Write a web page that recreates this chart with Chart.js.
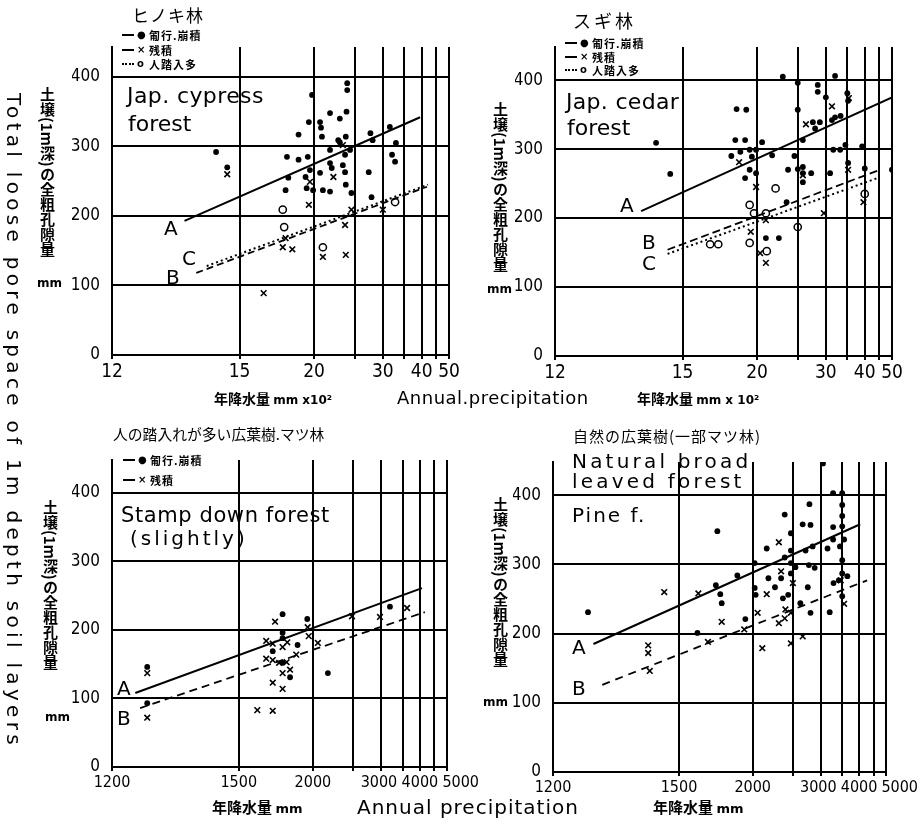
<!DOCTYPE html>
<html>
<head>
<meta charset="utf-8">
<script src="https://cdn.jsdelivr.net/npm/chart.js@4.4.1/dist/chart.umd.min.js"></script>
<style>
  body { margin: 0; background: #fff; }
  #wrap { position: relative; width: 920px; height: 826px; overflow: hidden; background: #fff; }
  canvas { position: absolute; left: 0; top: 0; }
  .t { position: absolute; white-space: nowrap; color: #000; line-height: 1; }
  .hw { font-family: "DejaVu Sans", sans-serif; }
  .jp { font-family: "Noto Sans CJK JP", sans-serif; }
  .vt { writing-mode: vertical-rl; text-orientation: mixed; font-family: "Noto Sans CJK JP", sans-serif;
        font-size: 15px; font-weight: bold; line-height: 1; }
  .mm { font-family: "DejaVu Sans", sans-serif; font-size: 12px; font-weight: bold; }
  .lg { font-family: "Noto Sans CJK JP", sans-serif; font-size: 11px; font-weight: bold; letter-spacing: 1px; }
  .lg span { display: inline-block; vertical-align: middle; }
  .ln { width: 12px; height: 0; margin-right: 3px; border-top: 2px solid #000; }
  .ln.dash { border-top-style: dashed; }
  .ln.dot { border-top-style: dotted; }
  .mk { width: 8px; font-family: "DejaVu Sans", sans-serif; font-size: 10px; margin-right: 4px; }
</style>
</head>
<body>
<div id="wrap">
  <canvas id="c1" width="920" height="826"></canvas>
  <canvas id="c2" width="920" height="826"></canvas>
  <canvas id="c3" width="920" height="826"></canvas>
  <canvas id="c4" width="920" height="826"></canvas>

  <!-- overall y title -->
  <div class="t hw" style="left:4px;top:93px;font-size:20px;letter-spacing:4.3px;writing-mode:vertical-rl;">Total loose pore space of 1m depth soil layers</div>

  <!-- panel titles -->
  <div class="t jp" style="left:132px;top:6px;font-size:17px;letter-spacing:1px;">ヒノキ林</div>
  <div class="t jp" style="left:573px;top:11px;font-size:18px;letter-spacing:3px;">スギ林</div>
  <div class="t jp" style="left:113px;top:427px;font-size:14.8px;">人の踏入れが多い広葉樹.マツ林</div>
  <div class="t jp" style="left:573px;top:428px;font-size:15px;letter-spacing:1px;">自然の広葉樹(一部マツ林)</div>

  <!-- legends -->
  <div class="t lg" style="left:122px;top:28px;"><span class="ln"></span><span class="mk">●</span><span>匍行.崩積</span></div>
  <div class="t lg" style="left:122px;top:43px;"><span class="ln dash"></span><span class="mk">×</span><span>残積</span></div>
  <div class="t lg" style="left:122px;top:57px;"><span class="ln dot"></span><span class="mk">o</span><span>人踏入多</span></div>

  <div class="t lg" style="left:565px;top:36px;"><span class="ln"></span><span class="mk">●</span><span>匍行.崩積</span></div>
  <div class="t lg" style="left:565px;top:50px;"><span class="ln dash"></span><span class="mk">×</span><span>残積</span></div>
  <div class="t lg" style="left:565px;top:63px;"><span class="ln dot"></span><span class="mk">o</span><span>人踏入多</span></div>

  <div class="t lg" style="left:123px;top:453px;"><span class="ln"></span><span class="mk">●</span><span>匍行.崩積</span></div>
  <div class="t lg" style="left:123px;top:473px;"><span class="ln dash"></span><span class="mk">×</span><span>残積</span></div>

  <!-- forest names written inside the plots -->
  <div class="t hw" style="left:127px;top:85px;font-size:22px;letter-spacing:0.4px;">Jap. cypress</div>
  <div class="t hw" style="left:128px;top:113px;font-size:22px;">forest</div>
  <div class="t hw" style="left:566px;top:91px;font-size:22px;letter-spacing:0.3px;">Jap. cedar</div>
  <div class="t hw" style="left:567px;top:117px;font-size:22px;">forest</div>
  <div class="t hw" style="left:121px;top:505px;font-size:21px;letter-spacing:0.6px;">Stamp down forest</div>
  <div class="t hw" style="left:130px;top:528px;font-size:20px;letter-spacing:3px;">(slightly)</div>
  <div class="t hw" style="left:572px;top:451px;font-size:20px;letter-spacing:3.2px;">Natural  broad</div>
  <div class="t hw" style="left:572px;top:471px;font-size:20px;letter-spacing:3.2px;">leaved forest</div>
  <div class="t hw" style="left:572px;top:505px;font-size:20px;letter-spacing:2px;">Pine f.</div>

  <!-- regression line letters -->
  <div class="t hw" style="left:164px;top:218px;font-size:20px;">A</div>
  <div class="t hw" style="left:182px;top:248px;font-size:20px;">C</div>
  <div class="t hw" style="left:166px;top:267px;font-size:20px;">B</div>
  <div class="t hw" style="left:620px;top:195px;font-size:20px;">A</div>
  <div class="t hw" style="left:642px;top:232px;font-size:20px;">B</div>
  <div class="t hw" style="left:642px;top:253px;font-size:20px;">C</div>
  <div class="t hw" style="left:117px;top:678px;font-size:20px;">A</div>
  <div class="t hw" style="left:117px;top:708px;font-size:20px;">B</div>
  <div class="t hw" style="left:572px;top:637px;font-size:20px;">A</div>
  <div class="t hw" style="left:572px;top:678px;font-size:20px;">B</div>

  <!-- y axis titles (Japanese, vertical) -->
  <div class="t vt" style="left:40px;top:87px;">土壌(1m深)の全粗孔隙量</div>
  <div class="t mm" style="left:37px;top:277px;">mm</div>
  <div class="t vt" style="left:493px;top:102px;">土壌(1m深)の全粗孔隙量</div>
  <div class="t mm" style="left:487px;top:283px;">mm</div>
  <div class="t vt" style="left:43px;top:500px;">土壌(1m深)の全粗孔隙量</div>
  <div class="t mm" style="left:45px;top:711px;">mm</div>
  <div class="t vt" style="left:493px;top:497px;">土壌(1m深)の全粗孔隙量</div>
  <div class="t mm" style="left:483px;top:696px;">mm</div>

  <!-- x axis titles -->
  <div class="t jp" style="left:214px;top:391px;font-size:14px;font-weight:bold;">年降水量 <span class="hw" style="font-size:12px;">mm x10²</span></div>
  <div class="t hw" style="left:397px;top:389px;font-size:18px;letter-spacing:0.5px;">Annual.precipitation</div>
  <div class="t jp" style="left:637px;top:391px;font-size:14px;font-weight:bold;">年降水量 <span class="hw" style="font-size:12px;">mm x 10²</span></div>
  <div class="t jp" style="left:212px;top:799px;font-size:15px;font-weight:bold;">年降水量 <span class="hw" style="font-size:13px;">mm</span></div>
  <div class="t hw" style="left:357px;top:797px;font-size:20px;letter-spacing:1px;">Annual precipitation</div>
  <div class="t jp" style="left:653px;top:799px;font-size:15px;font-weight:bold;">年降水量 <span class="hw" style="font-size:13px;">mm</span></div>
</div>

<script>
// ---------- data: annual precipitation vs. total coarse pore volume (mm) ----------
// Precipitation axis of the upper panels is in 100 mm units, lower panels in mm.

const yTickValues = [0, 100, 200, 300, 400];

const topTickValues = [12, 15, 20, 25, 30, 35, 40, 45, 50];
const topTickLabels = ['12', '15', '20', '', '30', '', '40', '', '50'];
const lowTickValues = [1200, 1500, 2000, 2500, 3000, 3500, 4000, 4500, 5000];
const lowTickLabels = ['1200', '1500', '2000', '', '3000 ', '', '4000', '', '      5000'];

// ヒノキ林 (Japanese cypress)
const hinokiCreep = [
  [14.1, 292], [14.5, 270], [17.7, 285], [18.6, 281], [19.4, 285], [18.6, 317], [19.5, 335],
  [20.6, 335], [20.7, 327], [20.8, 314], [21.7, 348], [22.9, 340], [23.8, 350], [23.7, 314],
  [22.9, 306], [21.7, 295], [24.3, 295], [23.6, 288], [21.7, 276], [21.9, 269], [23.3, 273],
  [23.6, 263], [20.6, 262], [19.6, 266], [19.2, 256], [17.8, 255], [17.6, 237], [19.3, 240],
  [19.9, 237], [20.9, 237], [21.7, 235], [23.7, 245], [24.5, 233], [27.3, 263], [27.8, 227],
  [27.6, 319], [28.0, 309], [31.5, 328], [32.9, 305], [32.0, 288], [32.7, 278], [22.7, 309],
  [23.9, 391], [23.9, 381], [19.8, 374]
];
const hinokiResidual = [
  [14.5, 260], [19.5, 216], [19.6, 249], [22.1, 256], [23.3, 302], [23.6, 187], [24.5, 209],
  [30.0, 209], [17.4, 155], [18.1, 152], [17.6, 168], [20.9, 141], [23.7, 144], [16.2, 89]
];
const hinokiTrampled = [[17.4, 209], [17.5, 184], [20.9, 155], [32.7, 220]];
const hinokiLineA = [[13.2, 193], [39.5, 342]];
const hinokiLineB = [[13.5, 118], [41.7, 242]];
const hinokiLineC = [[13.8, 128], [42.0, 245]];

// スギ林 (Japanese cedar)
const sugiCreep = [
  [14.0, 309], [14.5, 264], [18.2, 358], [19.0, 357], [18.1, 313], [18.9, 313], [17.8, 290],
  [18.5, 296], [19.3, 299], [19.9, 299], [19.5, 289], [20.5, 310], [19.3, 270], [18.9, 258],
  [19.9, 265], [21.6, 291], [22.9, 405], [25.0, 396], [25.0, 357], [24.5, 290], [23.6, 270],
  [23.4, 223], [25.8, 313], [25.8, 274], [25.8, 265], [25.8, 252], [27.2, 265], [28.4, 393],
  [28.4, 383], [27.5, 339], [27.9, 330], [28.8, 339], [30.0, 375], [32.0, 406], [31.3, 342],
  [32.0, 346], [33.3, 348], [35.0, 381], [35.2, 370], [31.6, 299], [33.2, 299], [34.5, 306],
  [30.9, 265], [35.2, 280], [39.2, 304], [40.0, 272], [50.0, 270], [20.9, 171], [22.4, 171],
  [25.0, 271]
];
const sugiResidual = [
  [18.4, 281], [19.9, 245], [26.3, 336], [31.3, 362], [35.4, 374], [25.8, 262], [35.2, 270],
  [29.6, 207], [39.6, 223], [20.9, 197], [19.4, 180], [20.3, 149], [20.9, 135]
];
const sugiTrampled = [
  [19.3, 219], [19.7, 207], [20.9, 207], [22.0, 243], [25.0, 187], [16.4, 162], [16.9, 162],
  [19.3, 164], [21.0, 152], [40.0, 235]
];
const sugiLineA = [[13.55, 210], [50.0, 375]];
const sugiLineB = [[14.4, 154], [45.2, 270]];
const sugiLineC = [[14.4, 148], [45.0, 259]];

// 人の踏入れが多い広葉樹・マツ林 (heavily trampled broadleaf / pine)
const trampledCreep = [
  [1247, 146], [1247, 93], [1746, 223], [1746, 196], [1946, 216], [1861, 178], [1680, 169],
  [1746, 152], [1801, 131], [2160, 137], [3190, 234], [1746, 188]
];
const trampledResidual = [
  [1247, 137], [1247, 72], [1695, 212], [1640, 184], [1680, 180], [1746, 175], [1780, 182],
  [1640, 158], [1680, 156], [1722, 152], [1775, 153], [1801, 142], [1746, 137], [1680, 123],
  [1746, 114], [1850, 164], [1950, 204], [1960, 191], [2050, 181], [2480, 220], [2974, 219],
  [3620, 232], [1590, 83], [1680, 82]
];
const trampledLineA = [[1229, 108], [4067, 261]];
const trampledLineB = [[1236, 86], [4160, 226]];

// 自然の広葉樹 (一部マツ林) (natural broadleaf, partly pine)
const naturalCreep = [
  [1247, 231], [1710, 348], [1590, 201], [1700, 270], [1860, 284], [1730, 257], [1740, 244],
  [1930, 221], [2020, 302], [2020, 266], [2030, 256], [2150, 323], [2170, 280], [2250, 267],
  [2380, 372], [2380, 310], [2330, 280], [2355, 251], [2430, 256], [2470, 345], [2470, 320],
  [2470, 302], [2470, 287], [2540, 296], [2660, 358], [2800, 357], [2780, 387], [2710, 320],
  [2840, 326], [2770, 299], [2880, 295], [2750, 267], [2620, 244], [2800, 230], [3050, 446],
  [3280, 403], [3510, 403], [3510, 386], [3510, 370], [3280, 354], [3510, 355], [3280, 336],
  [3560, 336], [3150, 323], [3450, 326], [3510, 306], [3510, 287], [3650, 283], [3290, 273],
  [3420, 277], [3200, 231], [3510, 254]
];
const naturalResidual = [
  [1440, 260], [1385, 183], [1385, 172], [1390, 146], [1595, 258], [1650, 188], [1740, 217],
  [1920, 206], [2050, 230], [2150, 257], [2100, 179], [2300, 332], [2330, 290], [2500, 273],
  [2300, 215], [2390, 235], [2380, 222], [2470, 230], [2470, 186], [2660, 196], [3470, 277],
  [3560, 243]
];
const naturalLineA = [[1256, 185], [4037, 358]];
const naturalLineB = [[1272, 126], [4270, 277]];

// ---------- precipitation axis: logarithmic in (P - offset) ----------
class OffsetLogScale extends Chart.LinearScale {
  static id = 'offsetLog';
  _t(v) { return Math.log10(v - this.options.shift); }
  buildTicks() {
    this.min = this.options.min;
    this.max = this.options.max;
    return [];
  }
  getPixelForValue(value) {
    if (value === null || value === undefined || isNaN(value)) return NaN;
    const a = this._t(this.min), b = this._t(this.max);
    return this.getPixelForDecimal((this._t(value) - a) / (b - a));
  }
  getValueForPixel(pixel) {
    const a = this._t(this.min), b = this._t(this.max);
    return this.options.shift + Math.pow(10, a + this.getDecimalForPixel(pixel) * (b - a));
  }
}
Chart.register(OffsetLogScale);

const NARROW = "'Liberation Sans Narrow', 'DejaVu Sans Condensed', 'Liberation Sans', sans-serif";
const W = 920, H = 826, Y_W = 40, X_H = 30;

const pts = arr => arr.map(p => ({ x: p[0], y: p[1] }));
const dots = arr => ({ data: pts(arr), pointStyle: 'circle', pointRadius: 2.9, backgroundColor: '#000', borderColor: '#000', borderWidth: 0 });
const crosses = arr => ({ data: pts(arr), pointStyle: 'crossRot', pointRadius: 4, borderColor: '#000', borderWidth: 1.6 });
const rings = arr => ({ data: pts(arr), pointStyle: 'circle', pointRadius: 3.6, backgroundColor: 'rgba(0,0,0,0)', borderColor: '#000', borderWidth: 1.5 });
const line = (arr, dash, width) => ({ data: pts(arr), showLine: true, pointRadius: 0, borderColor: '#000', borderWidth: width || 2, borderDash: dash || [] });

function panel(id, area, axis, yMax, datasets) {
  new Chart(document.getElementById(id), {
    type: 'scatter',
    data: { datasets },
    options: {
      responsive: false,
      animation: false,
      devicePixelRatio: 1,
      layout: { padding: { left: area.l - Y_W, right: W - area.r, top: area.t, bottom: H - area.b - X_H } },
      plugins: { legend: { display: false }, tooltip: { enabled: false } },
      scales: {
        x: {
          type: 'offsetLog', min: axis.min, max: axis.max, shift: axis.shift,
          afterBuildTicks: s => { s.ticks = axis.values.map(v => ({ value: v })); },
          afterFit: s => { s.height = X_H; },
          grid: { color: '#000', lineWidth: 2, drawTicks: true, tickLength: 4, tickColor: '#000', tickWidth: 2 },
          border: { display: true, color: '#000', width: 2 },
          ticks: {
            autoSkip: false, maxRotation: 0, padding: 2, color: '#000',
            font: { family: NARROW, size: axis.fontSize },
            callback: (v, i) => axis.labels[i]
          }
        },
        y: {
          type: 'linear', min: 0, max: yMax,
          afterBuildTicks: s => { s.ticks = yTickValues.map(v => ({ value: v })); },
          afterFit: s => { s.width = Y_W; },
          grid: { color: '#000', lineWidth: 2, drawTicks: false },
          border: { display: true, color: '#000', width: 2 },
          ticks: { padding: 12, color: '#000', font: { family: NARROW, size: 17 }, callback: v => String(v) }
        }
      }
    }
  });
}

const topAxis = { min: 12, max: 50, shift: 11, values: topTickValues, labels: topTickLabels, fontSize: 19 };
const lowAxis = { min: 1200, max: 5000, shift: 1100, values: lowTickValues, labels: lowTickLabels, fontSize: 16 };

panel('c1', { l: 112, r: 449, t: 47, b: 355 }, topAxis, 443, [
  line(hinokiLineA), line(hinokiLineB, [7, 4], 1.8), line(hinokiLineC, [2, 3], 2),
  dots(hinokiCreep), crosses(hinokiResidual), rings(hinokiTrampled)
]);
panel('c2', { l: 555, r: 892, t: 47, b: 356 }, topAxis, 448, [
  line(sugiLineA), line(sugiLineB, [8, 4], 1.8), line(sugiLineC, [2, 3], 2),
  dots(sugiCreep), crosses(sugiResidual), rings(sugiTrampled)
]);
panel('c3', { l: 112, r: 447, t: 460, b: 767 }, lowAxis, 448, [
  line(trampledLineA), line(trampledLineB, [8, 5], 1.8),
  dots(trampledCreep), crosses(trampledResidual)
]);
panel('c4', { l: 553, r: 889, t: 462, b: 772 }, lowAxis, 448, [
  line(naturalLineA), line(naturalLineB, [8, 6], 1.8),
  dots(naturalCreep), crosses(naturalResidual)
]);
</script>
</body>
</html>
